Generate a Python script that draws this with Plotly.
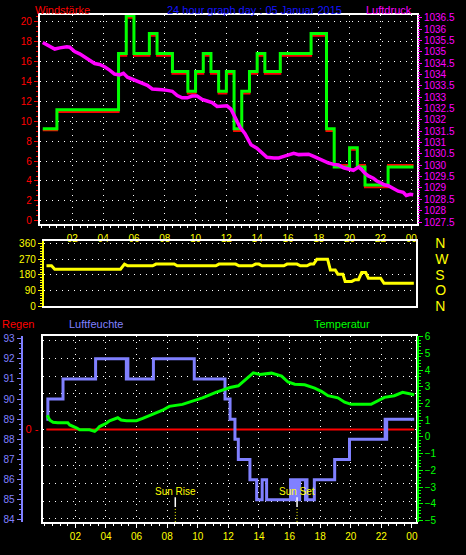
import plotly.graph_objects as go

W, H = 466, 555

# ---------------- data ----------------
hour_ticks = [2, 4, 6, 8, 10, 12, 14, 16, 18, 20, 22, 24]
hour_labels = ["02", "04", "06", "08", "10", "12", "14", "16", "18", "20", "22", "00"]

# wind (step values, hours of change)
wind_hours = [0.08, 1.0, 5.0, 5.5, 6.0, 7.0, 7.5, 8.5, 9.5, 10.0, 10.5, 11.0, 11.5, 12.0,
              12.5, 13.0, 13.5, 14.0, 14.5, 15.5, 17.5, 18.5, 19.0, 20.0, 20.5, 21.0, 22.5, 24.15]
wind_gust = [9.25, 11.15, 16.8, 20.6, 16.8, 18.8, 16.8, 15.0, 13.0, 15.0, 16.8, 15.0, 13.0, 15.0,
             9.25, 13.0, 15.0, 16.8, 15.0, 16.8, 18.8, 9.25, 5.4, 7.35, 5.4, 3.6, 5.4, 5.4]
wind_avg = [9.1, 10.93, 16.58, 20.38, 16.58, 18.58, 16.58, 14.78, 12.78, 14.78, 16.58, 14.78, 12.78, 14.78,
            9.03, 12.78, 14.78, 16.58, 14.78, 16.58, 18.58, 9.03, 5.6, 7.13, 5.6, 3.38, 5.6, 5.6]

press_hours = [0.08, 0.54, 0.86, 1.18, 1.64, 1.83, 2.15, 2.48, 2.80, 3.12,
               3.45, 3.77, 4.09, 4.42, 4.74, 5.06, 5.32, 5.58, 5.90, 6.22,
               6.55, 6.87, 7.19, 7.52, 7.84, 8.16, 8.49, 8.81, 9.13, 9.46,
               9.78, 10.10, 10.43, 10.75, 11.07, 11.40, 11.72, 12.04, 12.30, 12.56,
               12.88, 13.21, 13.60, 13.98, 14.37, 14.63, 15.08, 15.40, 15.73, 16.05,
               16.37, 16.70, 17.02, 17.34, 17.67, 17.99, 18.31, 18.64, 18.96, 19.28,
               19.61, 19.93, 20.25, 20.58, 20.77, 20.96, 21.22, 21.54, 21.74, 21.99,
               22.25, 22.51, 22.83, 23.16, 23.48, 23.68, 23.94, 24.13]
pressure = [1035.41, 1035.22, 1035.12, 1035.17, 1035.22, 1035.20, 1035.01, 1034.91, 1034.77, 1034.59,
            1034.48, 1034.44, 1034.34, 1034.19, 1034.02, 1033.98, 1034.05, 1033.88, 1033.79, 1033.73,
            1033.62, 1033.52, 1033.36, 1033.36, 1033.33, 1033.30, 1033.26, 1033.07, 1032.97, 1032.97,
            1033.05, 1033.05, 1032.90, 1032.83, 1032.76, 1032.59, 1032.62, 1032.62, 1032.47, 1032.11,
            1031.68, 1031.39, 1030.90, 1030.75, 1030.53, 1030.35, 1030.32, 1030.32, 1030.39, 1030.47,
            1030.53, 1030.47, 1030.47, 1030.49, 1030.39, 1030.29, 1030.21, 1030.10, 1030.04, 1030.01,
            1029.89, 1029.82, 1029.78, 1029.92, 1029.82, 1029.67, 1029.53, 1029.43, 1029.32, 1029.24,
            1029.14, 1029.10, 1029.00, 1028.86, 1028.81, 1028.67, 1028.72, 1028.70]

dir_hours = [0.11, 0.44, 0.65, 4.95, 5.21, 5.42, 7.05, 7.27, 8.46, 8.66,
             11.18, 11.39, 12.48, 12.69, 13.56, 13.78, 14.0, 14.21, 15.63, 15.84,
             16.49, 16.71, 17.14, 17.36, 17.58, 17.79, 18.49, 18.67, 18.99, 19.16,
             19.49, 19.64, 20.07, 20.29, 20.51, 20.72, 20.98, 21.16, 21.96, 22.18, 24.13]
direction = [232, 232, 212, 212, 242, 232, 232, 242, 242, 232,
             232, 242, 242, 232, 232, 242, 242, 232, 232, 242,
             242, 232, 232, 242, 242, 270, 270, 208, 208, 184,
             184, 142, 142, 152, 152, 193, 193, 161, 161, 131, 131]
dir_ticks = [0, 90, 180, 270, 360]
dir_letters = ["N", "O", "S", "W", "N"]

hum_hours = [0.1, 0.2, 1.19, 3.32, 5.33, 5.38, 5.43, 7.1, 9.77, 11.78, 12.11, 12.43, 12.65,
             13.41, 13.85, 14.21, 14.5, 16.06, 16.16, 16.26, 16.36, 16.46, 16.56, 16.66,
             17.04, 17.09, 17.14, 17.62, 18.95, 19.92, 22.25, 22.3, 22.35, 24.15]
humidity = [89, 90, 91, 92, 91, 92, 91, 92, 91, 90, 89, 88, 87,
            86, 85, 86, 85, 86, 85, 86, 85, 86, 85, 86,
            85, 86, 85, 86, 87, 88, 89, 88, 89, 89]

temp_hours = [0.15, 0.33, 0.54, 0.85, 1.5, 1.63, 2.06, 2.28, 2.93, 3.26,
              3.39, 3.58, 4.02, 4.23, 4.77, 4.99, 5.34, 5.99, 6.4, 7.05,
              7.7, 8.14, 9.0, 9.65, 10.31, 11.18, 11.83, 12.11, 12.65, 13.09,
              13.63, 14.06, 14.5, 14.82, 15.48, 15.9, 16.34, 16.99, 17.64, 18.08,
              18.51, 19.16, 19.6, 20.03, 21.33, 21.76, 22.2, 22.85, 23.39, 24.15]
temperature = [1.3, 1.0, 0.88, 0.85, 0.85, 0.72, 0.55, 0.43, 0.43, 0.33,
               0.43, 0.62, 0.82, 0.97, 1.15, 1.01, 0.97, 0.97, 1.11, 1.34,
               1.6, 1.83, 1.95, 2.14, 2.34, 2.67, 2.86, 2.96, 3.06, 3.39,
               3.84, 3.74, 3.80, 3.82, 3.64, 3.29, 3.16, 3.12, 2.92, 2.73,
               2.47, 2.34, 2.08, 1.95, 1.95, 2.18, 2.37, 2.47, 2.67, 2.53]

rain_hours = [0.1, 24.15]
rain = [0, 0]

sun_hours = [8.53, 16.49]
sun_labels = ["Sun Rise", "Sun Set"]

wind_ticks = [0, 2, 4, 6, 8, 10, 12, 14, 16, 18, 20]
press_ticks = [1027.5, 1028, 1028.5, 1029, 1029.5, 1030, 1030.5, 1031, 1031.5, 1032,
               1032.5, 1033, 1033.5, 1034, 1034.5, 1035, 1035.5, 1036, 1036.5]
press_labels = ["1027.5", "1028", "1028.5", "1029", "1029.5", "1030", "1030.5", "1031", "1031.5", "1032",
                "1032.5", "1033", "1033.5", "1034", "1034.5", "1035", "1035.5", "1036", "1036.5"]
hum_ticks = [84, 85, 86, 87, 88, 89, 90, 91, 92, 93]
temp_ticks = [-5, -4, -3, -2, -1, 0, 1, 2, 3, 4, 5, 6]
rain_grid = [-5, -4, -3, -2, -1, 0, 1, 2, 3, 4, 5]

# ---------------- styling ----------------
FONT = "Liberation Sans, Arial, sans-serif"
RED, GREEN, MAG, YEL, BLUE, WHITE = "#FF0000", "#00FF00", "#FF00FF", "#FFFF00", "#8080FF", "#FFFFFF"
TITLE_BLUE = "#1414FF"
DOT = "1px,5px"
TS = 10  # tick font size


def fx(p):
    return p / W


def fy(p):
    return 1 - p / H


fig = go.Figure()

# top panel
fig.add_trace(go.Scatter(x=wind_hours, y=wind_avg, mode="lines", line=dict(color=RED, width=2, shape="hv"),
                         xaxis="x", yaxis="y", hoverinfo="skip"))
fig.add_trace(go.Scatter(x=wind_hours, y=wind_gust, mode="lines", line=dict(color=GREEN, width=3, shape="hv"),
                         xaxis="x", yaxis="y", hoverinfo="skip"))
fig.add_trace(go.Scatter(x=press_hours, y=pressure, mode="lines", line=dict(color=MAG, width=3.5),
                         xaxis="x", yaxis="y2", hoverinfo="skip"))

# middle panel
fig.add_trace(go.Scatter(x=dir_hours, y=direction, mode="lines", line=dict(color=YEL, width=3),
                         xaxis="x2", yaxis="y3", hoverinfo="skip"))
fig.add_trace(go.Scatter(x=dir_hours, y=direction, mode="lines", line=dict(color="rgba(0,0,0,0)", width=0),
                         xaxis="x2", yaxis="y4", hoverinfo="skip"))

# bottom panel
fig.add_trace(go.Scatter(x=hum_hours, y=humidity, mode="lines", line=dict(color=BLUE, width=3, shape="hv"),
                         xaxis="x3", yaxis="y6", hoverinfo="skip"))
fig.add_trace(go.Scatter(x=temp_hours, y=temperature, mode="lines", line=dict(color=GREEN, width=3),
                         xaxis="x3", yaxis="y7", hoverinfo="skip"))
fig.add_trace(go.Scatter(x=rain_hours, y=rain, mode="lines", line=dict(color=RED, width=2),
                         xaxis="x3", yaxis="y5", hoverinfo="skip"))


def tickfont(c, s=TS):
    return dict(color=c, size=s, family=FONT)


layout = dict(
    width=W, height=H, autosize=False,
    margin=dict(l=0, r=0, t=0, b=0),
    paper_bgcolor="black", plot_bgcolor="black",
    showlegend=False,
    font=dict(family=FONT, size=11, color=WHITE),
    # ---- top
    xaxis=dict(domain=[fx(40), fx(418.7)], anchor="y", range=[-0.11, 24.37],
               tickvals=hour_ticks, ticktext=hour_labels, tickfont=tickfont(YEL),
               ticks="outside", ticklen=4, tickcolor=WHITE, tickwidth=1,
               minor=dict(dtick=0.5, tick0=0, ticks="outside", ticklen=2, tickcolor=WHITE, showgrid=False),
               showline=True, linecolor=WHITE, linewidth=2, mirror=True,
               showgrid=True, gridcolor=WHITE, gridwidth=1, griddash=DOT, zeroline=False),
    yaxis=dict(domain=[fy(224), fy(10)], anchor="x", range=[-0.294, 20.69],
               tickvals=wind_ticks, tickfont=tickfont(RED),
               ticks="outside", ticklen=4, tickcolor=RED,
               minor=dict(dtick=0.5, tick0=0, ticks="outside", ticklen=2, tickcolor=RED, showgrid=False),
               showline=True, linecolor=WHITE, linewidth=2, mirror=True,
               showgrid=True, gridcolor=WHITE, gridwidth=1, griddash=DOT, zeroline=False),
    yaxis2=dict(overlaying="y", anchor="x", side="right", range=[1027.425, 1036.629],
                tickvals=press_ticks, ticktext=press_labels, tickfont=tickfont(MAG),
                ticks="outside", ticklen=4, tickcolor=MAG,
                minor=dict(dtick=0.1, tick0=1027.5, ticks="outside", ticklen=2, tickcolor=MAG, showgrid=False),
                showline=False, showgrid=False, zeroline=False),
    # ---- middle
    xaxis2=dict(domain=[fx(44), fx(417.3)], anchor="y3", range=[-0.065, 24.24],
                showticklabels=False, ticks="", showgrid=False, zeroline=False,
                showline=True, linecolor=WHITE, linewidth=2, mirror=True),
    yaxis3=dict(domain=[fy(308.7), fy(241.7)], anchor="x2", range=[-2.25, 374.6],
                tickvals=dir_ticks, tickfont=tickfont(YEL),
                ticks="outside", ticklen=4, tickcolor=YEL,
                minor=dict(dtick=15, tick0=0, ticks="outside", ticklen=2, tickcolor=YEL, showgrid=False),
                showline=True, linecolor=YEL, linewidth=2,
                showgrid=True, gridcolor=WHITE, gridwidth=1, griddash=DOT, zeroline=False),
    yaxis4=dict(overlaying="y3", anchor="x2", side="right", range=[-2.25, 374.6],
                tickvals=dir_ticks, ticktext=dir_letters, tickfont=tickfont(YEL, 14),
                ticks="", ticklabelstandoff=15,
                showline=True, linecolor=WHITE, linewidth=2, showgrid=False, zeroline=False),
    # ---- bottom
    xaxis3=dict(domain=[fx(42.7), fx(417.7)], anchor="y5", range=[-0.15, 24.26],
                tickvals=hour_ticks, ticktext=hour_labels, tickfont=tickfont(YEL),
                ticks="outside", ticklen=4, tickcolor=WHITE,
                minor=dict(dtick=0.5, tick0=0, ticks="outside", ticklen=2, tickcolor=WHITE, showgrid=False),
                showline=True, linecolor=WHITE, linewidth=2, mirror=True,
                showgrid=True, gridcolor=WHITE, gridwidth=1, griddash=DOT, zeroline=False),
    yaxis5=dict(domain=[fy(529.3), fy(339.3)], anchor="x3", range=[-5.164, 5.219],
                tickvals=rain_grid, ticktext=["0 -" if v == 0 else "" for v in rain_grid],
                tickfont=tickfont(RED, 11), ticks="",
                showline=True, linecolor=WHITE, linewidth=2, mirror=True,
                showgrid=True, gridcolor=WHITE, gridwidth=1, griddash=DOT, zeroline=False),
    yaxis6=dict(overlaying="y5", anchor="free", position=fx(21.7), side="left", range=[83.902, 93.116],
                tickvals=hum_ticks, tickfont=tickfont(BLUE),
                ticks="outside", ticklen=4, tickcolor=BLUE,
                minor=dict(dtick=0.25, tick0=84, ticks="outside", ticklen=2, tickcolor=BLUE, showgrid=False),
                showline=True, linecolor=BLUE, linewidth=2, showgrid=False, zeroline=False),
    yaxis7=dict(overlaying="y5", anchor="free", position=fx(419.5), side="right", range=[-5.088, 6.023],
                tickvals=temp_ticks, tickfont=tickfont(GREEN),
                ticks="outside", ticklen=4, tickcolor=GREEN,
                minor=dict(dtick=0.2, tick0=0, ticks="outside", ticklen=2, tickcolor=GREEN, showgrid=False),
                showline=True, linecolor=GREEN, linewidth=2, showgrid=False, zeroline=False),
)
fig.update_layout(**layout)

# titles
titles = [
    ("Windstärke", RED, 33, 5, "left"),
    ("24 hour graph day : 05 Januar 2015", TITLE_BLUE, 255.5, 5, "center"),
    ("Luftdruck", MAG, 416, 5, "right"),
    ("Regen", RED, 0, 327, "left"),
    ("Luftfeuchte", BLUE, 67, 327, "left"),
    ("Temperatur", GREEN, 313, 327, "left"),
]
for text, col, px, py, anc in titles:
    fig.add_annotation(text=text, x=fx(px), y=fy(py), xref="paper", yref="paper",
                       xanchor=anc, yanchor="middle", showarrow=False,
                       font=dict(color=col, size=11, family=FONT))

# sunrise / sunset markers
for h, lab in zip(sun_hours, sun_labels):
    fig.add_shape(type="line", xref="x3", yref="y5 domain", x0=h, x1=h, y0=0.0805, y1=0.133,
                  line=dict(color=WHITE, width=1.5))
    fig.add_shape(type="line", xref="x3", yref="y5 domain", x0=h, x1=h, y0=0.0, y1=0.0805,
                  line=dict(color=YEL, width=1, dash="1px,2px"))
    fig.add_annotation(text=lab, x=h, y=0.165, xref="x3", yref="y5 domain", showarrow=False,
                       xanchor="center", yanchor="middle", font=dict(color=YEL, size=10, family=FONT))

fig.write_html("out.html", config={"displayModeBar": False},
               post_script="document.body.style.margin='0px';")
